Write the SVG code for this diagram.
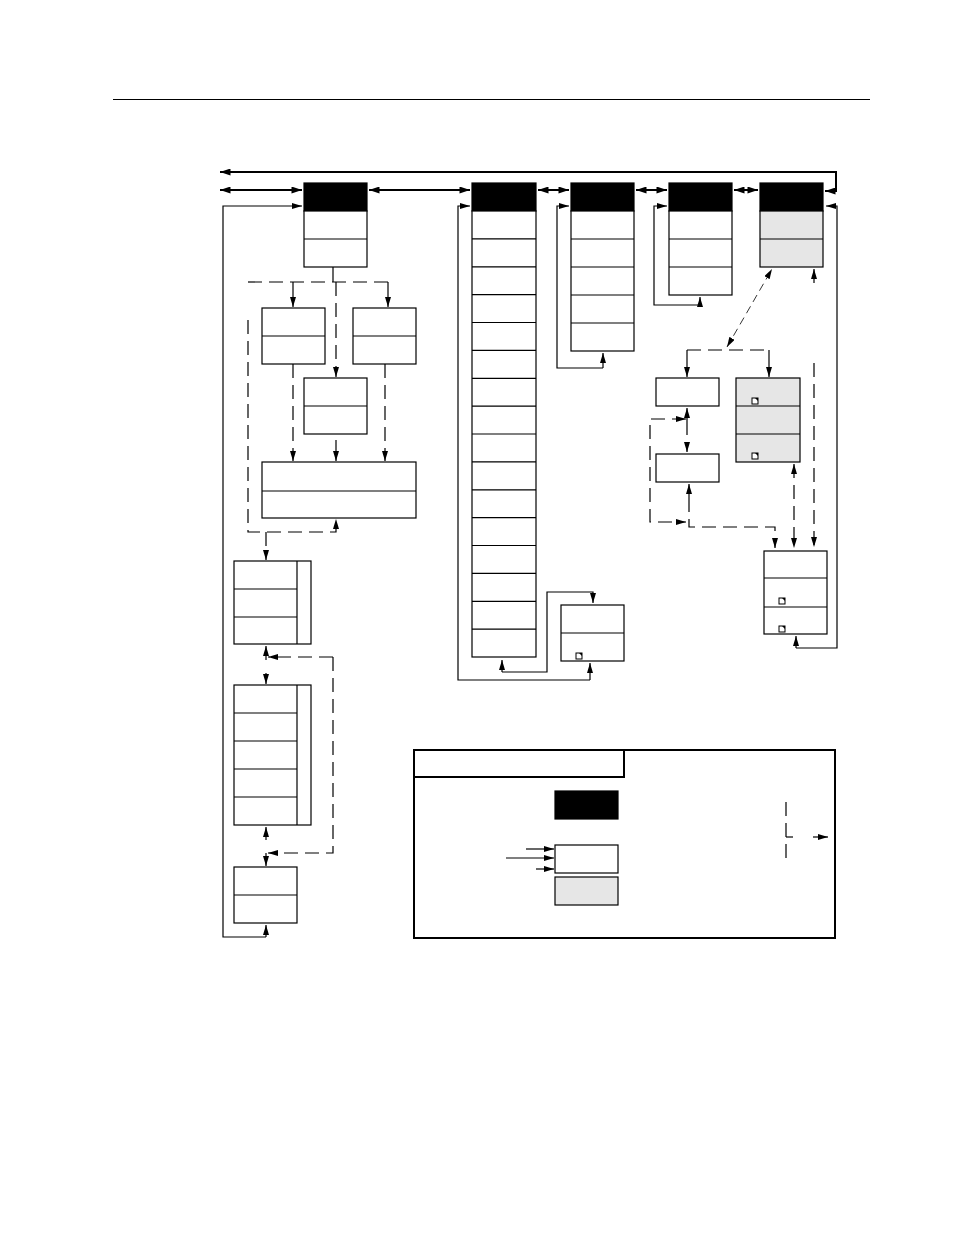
<svg xmlns="http://www.w3.org/2000/svg" width="954" height="1235" viewBox="0 0 954 1235">
<defs>
<marker id="ah" viewBox="0 0 10 6" refX="10" refY="3" markerWidth="10" markerHeight="6" markerUnits="userSpaceOnUse" orient="auto-start-reverse">
<path d="M0,0 L10,3 L0,6 z" fill="#000"/>
</marker>
<marker id="aht" viewBox="0 0 12 8" refX="12" refY="4" markerWidth="12" markerHeight="7" markerUnits="userSpaceOnUse" orient="auto-start-reverse">
<path d="M0,0 L12,4 L0,8 z" fill="#000"/>
</marker>
</defs>
<style>
.b{fill:#fff;stroke:#000;stroke-width:1.2}
.g{fill:#e6e6e6;stroke:#000;stroke-width:1.2}
.k{fill:#000;stroke:#000;stroke-width:1.2}
.ln{fill:none;stroke:#000;stroke-width:1.2}
.s{fill:none;stroke:#000;stroke-width:1.2;marker-end:url(#ah)}
.d{fill:none;stroke:#000;stroke-width:1.2;stroke-dasharray:14 7;marker-end:url(#ah)}
.dn{fill:none;stroke:#000;stroke-width:1.2;stroke-dasharray:14 7}
.t{fill:none;stroke:#000;stroke-width:2;marker-start:url(#aht);marker-end:url(#aht)}
.ic{fill:#fff;stroke:#000;stroke-width:1}
</style>
<rect width="954" height="1235" fill="#fff"/>
<line x1="113" y1="99.5" x2="870" y2="99.5" stroke="#000" stroke-width="1"/>

<g id="connectors">
<path d="M825,191 L836,191 L836,172 L220,172" class="t"/>
<line x1="220" y1="190" x2="302" y2="190" class="t"/>
<line x1="369" y1="190" x2="470" y2="190" class="t"/>
<line x1="538" y1="190" x2="569" y2="190" class="t"/>
<line x1="636" y1="190" x2="667" y2="190" class="t"/>
<line x1="734" y1="190" x2="758" y2="190" class="t"/>

<path d="M266,937 L223,937 L223,206 L302,206" class="s"/>
<path d="M266,937 L266,925" class="s"/>
<path d="M590,680 L458,680 L458,206 L470,206" class="s"/>
<path d="M590,680 L590,663" class="s"/>
<path d="M502,672 L547,672 L547,592 L593,592 L593,603" class="s"/>
<path d="M502,672 L502,660" class="s"/>
<path d="M603,368 L557,368 L557,206 L569,206" class="s"/>
<path d="M603,368 L603,353" class="s"/>
<path d="M700,305 L654,305 L654,206 L667,206" class="s"/>
<path d="M700,305 L700,297" class="s"/>
<path d="M796,648 L837,648 L837,206 L826,206" class="s"/>
<path d="M796,648 L796,636" class="s"/>

<path d="M814,283 L814,269" class="s"/>
<path d="M814,363 L814,547" class="d"/>
<path d="M727,347 L772,269" fill="none" stroke="#000" stroke-width="0.8" stroke-dasharray="8 5" marker-start="url(#ah)" marker-end="url(#ah)"/>
<path d="M687,350 L769,350" class="dn"/>
<path d="M687,350 L687,377" class="s"/>
<path d="M769,350 L769,377" class="s"/>
<path d="M687,421 L687,408" class="s"/>
<path d="M687,421 L687,452" class="d"/>
<path d="M686,419 L650,419 L650,522 L686,522" class="d" marker-start="url(#ah)"/>
<path d="M689,498 L689,484" class="s"/>
<path d="M689,498 L689,527 L775,527 L775,548" class="d"/>
<path d="M794,464 L794,548" class="d" marker-start="url(#ah)"/>

<path d="M333,267 L333,282" class="ln"/>
<path d="M248,282 L388,282" class="dn"/>
<path d="M293,282 L293,307" class="s"/>
<path d="M388,282 L388,307" class="s"/>
<path d="M336,282 L336,377" class="d"/>
<path d="M293,364 L293,461" class="d"/>
<path d="M385,364 L385,461" class="d"/>
<path d="M336,440 L336,461" class="s"/>
<path d="M248,320 L248,532 L336,532 L336,519" class="d"/>
<path d="M266,532 L266,560" class="d"/>
<path d="M333,657 L268,657" class="d"/>
<path d="M266,660 L266,646" class="s"/>
<path d="M333,657 L333,853 L268,853" class="d"/>
<path d="M266,673 L266,684" class="s"/>
<path d="M266,840 L266,827" class="s"/>
<path d="M266,853 L266,866" class="s"/>
</g>

<g id="box1">
<rect x="304" y="183" width="63" height="28" class="k"/>
<rect x="304" y="211" width="63" height="56" class="b"/>
<line x1="304" y1="239" x2="367" y2="239" class="ln"/>
</g>
<g id="box2">
<rect x="472" y="183" width="64" height="28" class="k"/>
<rect x="472" y="211" width="64" height="446" class="b"/>
<path d="M472,238.9H536M472,266.8H536M472,294.6H536M472,322.5H536M472,350.4H536M472,378.3H536M472,406.1H536M472,434H536M472,461.9H536M472,489.8H536M472,517.6H536M472,545.5H536M472,573.4H536M472,601.3H536M472,629.1H536" class="ln"/>
</g>
<g id="box3">
<rect x="571" y="183" width="63" height="28" class="k"/>
<rect x="571" y="211" width="63" height="140" class="b"/>
<path d="M571,239H634M571,267H634M571,295H634M571,323H634" class="ln"/>
</g>
<g id="box4">
<rect x="669" y="183" width="63" height="28" class="k"/>
<rect x="669" y="211" width="63" height="84" class="b"/>
<path d="M669,239H732M669,267H732" class="ln"/>
</g>
<g id="box5">
<rect x="760" y="183" width="63" height="28" class="k"/>
<rect x="760" y="211" width="63" height="56" class="g"/>
<line x1="760" y1="239" x2="823" y2="239" class="ln"/>
</g>
<g id="box6">
<rect x="561" y="605" width="63" height="56" class="b"/>
<line x1="561" y1="633" x2="624" y2="633" class="ln"/>
<rect x="576" y="653" width="6" height="6" class="ic"/><path d="M579,653 H582 V656 z" fill="#000"/>
</g>
<g id="box7"><rect x="656" y="378" width="63" height="28" class="b"/></g>
<g id="box8">
<rect x="736" y="378" width="64" height="84" class="g"/>
<path d="M736,406H800M736,434H800" class="ln"/>
<rect x="752" y="398" width="6" height="6" class="ic"/><path d="M755,398 H758 V401 z" fill="#000"/>
<rect x="752" y="453" width="6" height="6" class="ic"/><path d="M755,453 H758 V456 z" fill="#000"/>
</g>
<g id="box9"><rect x="656" y="454" width="63" height="28" class="b"/></g>
<g id="box10">
<rect x="764" y="551" width="63" height="83" class="b"/>
<path d="M764,578H827M764,607H827" class="ln"/>
<rect x="779" y="598" width="6" height="6" class="ic"/><path d="M782,598 H785 V601 z" fill="#000"/>
<rect x="779" y="626" width="6" height="6" class="ic"/><path d="M782,626 H785 V629 z" fill="#000"/>
</g>
<g id="boxA">
<rect x="262" y="308" width="63" height="56" class="b"/>
<line x1="262" y1="336" x2="325" y2="336" class="ln"/>
</g>
<g id="boxB">
<rect x="353" y="308" width="63" height="56" class="b"/>
<line x1="353" y1="336" x2="416" y2="336" class="ln"/>
</g>
<g id="boxC">
<rect x="304" y="378" width="63" height="56" class="b"/>
<line x1="304" y1="406" x2="367" y2="406" class="ln"/>
</g>
<g id="boxD">
<rect x="262" y="462" width="154" height="56" class="b"/>
<line x1="262" y1="491" x2="416" y2="491" class="ln"/>
</g>
<g id="boxE">
<rect x="234" y="561" width="77" height="83" class="b"/>
<path d="M297,561V644M234,589H297M234,617H297" class="ln"/>
</g>
<g id="boxF">
<rect x="234" y="685" width="77" height="140" class="b"/>
<path d="M297,685V825M234,713H297M234,741H297M234,769H297M234,797H297" class="ln"/>
</g>
<g id="boxG">
<rect x="234" y="867" width="63" height="56" class="b"/>
<line x1="234" y1="895" x2="297" y2="895" class="ln"/>
</g>

<g id="legend">
<rect x="414" y="750" width="421" height="188" fill="none" stroke="#000" stroke-width="2"/>
<path d="M414,777H624V750" fill="none" stroke="#000" stroke-width="2"/>
<rect x="555" y="791" width="63" height="28" class="k"/>
<rect x="555" y="845" width="63" height="28" class="b"/>
<rect x="555" y="877" width="63" height="28" class="g"/>
<path d="M526,849 L554,849" class="s"/>
<path d="M506,858 L554,858" class="s"/>
<path d="M536,869 L554,869" class="s"/>
<path d="M786,802 L786,859" class="dn" stroke-dasharray="10 8"/>
<path d="M786,837 L793,837" class="ln"/>
<path d="M813,837 L828,837" class="s"/>
</g>
</svg>
